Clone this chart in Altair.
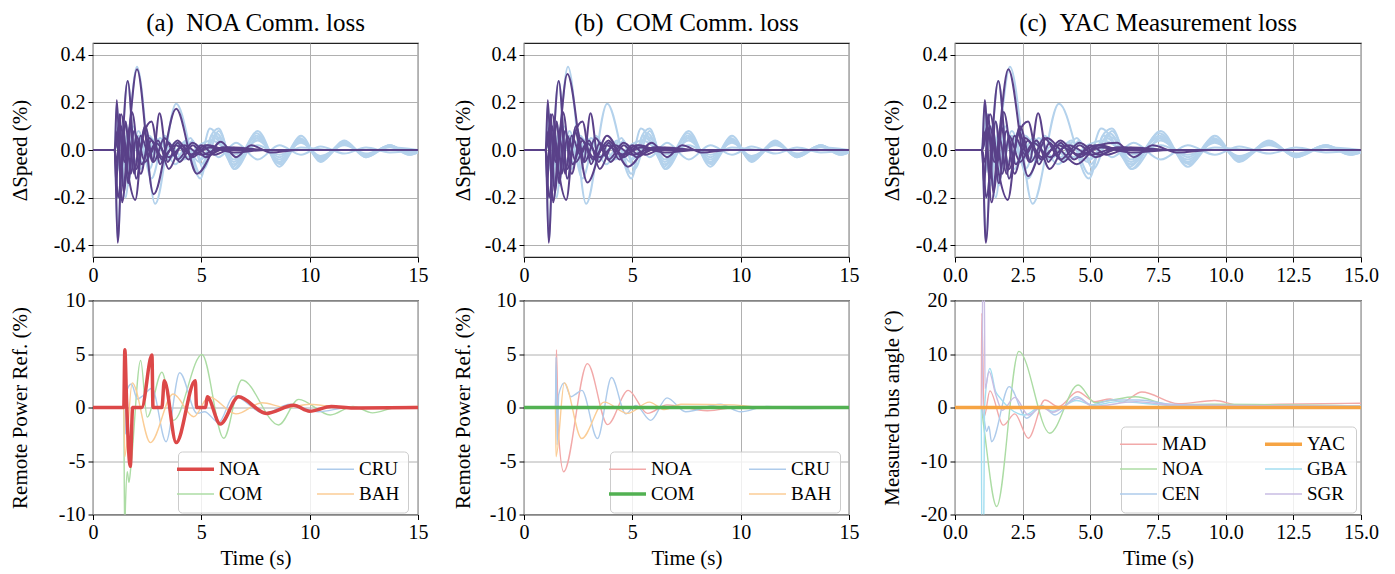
import altair as alt
import pandas as pd

FONT = "Liberation Serif"

# ---------------- top row: ΔSpeed (%) ----------------
# dark purple lines (time s, value %)
SPD_DARK_1 = [(0, 0), (1.0, 0), (1.14, -0.39), (1.38, 0.06), (1.62, -0.14), (1.9, 0.08), (2.25, -0.06), (2.7, 0.04), (3.2, -0.03), (3.8, 0.02), (4.6, -0.02), (5.4, 0.01), (6.5, -0.01), (8, 0), (15, 0)]
SPD_DARK_2 = [(0, 0), (1.0, 0), (1.1, 0.21), (1.28, -0.12), (1.5, 0.12), (1.75, -0.1), (2.0, 0.06), (2.4, -0.05), (2.9, 0.03), (3.5, -0.03), (4.2, 0.02), (5.0, -0.02), (6.0, 0.01), (7.5, 0), (15, 0)]
SPD_DARK_3 = [(0, 0), (1.0, 0), (1.15, -0.2), (1.6, 0.29), (2.0, -0.12), (2.4, 0.1), (2.8, -0.05), (3.3, 0.05), (3.9, -0.04), (4.6, 0.03), (5.3, -0.02), (6.2, 0.01), (7.5, 0), (15, 0)]
SPD_DARK_4A = [(0, 0), (1.0, 0), (1.2, 0.1), (1.45, -0.05), (2.03, 0.34), (2.8, -0.186), (3.84, 0.173), (4.8, -0.1), (5.9, 0.035), (6.6, -0.03), (7.3, 0.02), (8.2, -0.01), (9.5, 0), (15, 0)]
SPD_DARK_4B = [(0, 0), (1.0, 0), (1.2, 0.1), (1.45, -0.05), (2.0, 0.32), (2.93, -0.137), (3.83, 0.06), (4.8, -0.07), (5.9, 0.03), (6.6, -0.03), (7.3, 0.02), (8.2, -0.01), (9.5, 0), (15, 0)]
SPD_DARK_4C = [(0, 0), (1.0, 0), (1.2, 0.1), (1.45, -0.05), (1.97, 0.34), (2.7, -0.11), (3.4, 0.05), (3.9, 0.0), (4.5, -0.06), (5.3, 0.02), (6.0, 0.03), (6.6, -0.03), (7.3, 0.02), (8.2, -0.01), (9.5, 0), (15, 0)]
SPD_DARK_5 = [(0, 0), (1.0, 0), (1.3, 0.15), (1.62, -0.1), (1.95, -0.21), (2.35, 0.08), (2.75, -0.05), (3.07, 0.155), (3.45, -0.05), (3.9, 0.03), (4.4, -0.04), (5.0, 0.02), (5.6, -0.02), (6.5, 0.01), (8, 0), (15, 0)]
SPD_DARK_6 = [(0, 0), (1.0, 0), (1.08, -0.15), (1.22, 0.15), (1.42, -0.18), (1.7, 0.1), (2.0, -0.08), (2.35, 0.07), (2.7, 0.12), (3.1, -0.06), (3.5, 0.03), (4.0, -0.05), (4.6, 0.02), (5.2, -0.03), (6.0, 0.01), (7.5, 0), (15, 0)]
SPD_DARK_7 = [(0, 0), (1.0, 0), (1.12, 0.08), (1.35, -0.22), (1.65, 0.05), (1.9, -0.1), (2.2, 0.06), (2.6, -0.02), (3.0, 0.04), (3.5, -0.08), (4.1, 0.02), (4.6, -0.03), (5.3, 0.02), (6.2, 0), (15, 0)]
SPD_DARK_8 = [(0, 0), (1.0, 0), (1.1, -0.05), (1.3, 0.1), (1.55, -0.06), (1.8, 0.16), (2.2, -0.1), (2.6, 0.05), (3.2, -0.04), (3.9, 0.04), (4.5, -0.02), (5.2, 0.02), (6.2, 0), (15, 0)]

# light blue lines
SPD_LIGHT_1 = [(0, 0), (1.0, 0), (1.2, 0.1), (1.45, -0.05), (2.03, 0.35), (2.87, -0.226), (3.84, 0.195), (4.95, -0.12), (5.45, 0.06), (5.8, 0.09), (6.5, -0.08), (7.6, 0.08), (8.6, -0.07), (9.6, 0.06), (10.5, -0.05), (11.6, 0.04), (12.6, -0.03), (13.7, 0.02), (14.6, -0.02), (15, -0.01)]
SPD_LIGHT_2 = [(0, 0), (1.0, 0), (1.14, -0.38), (1.38, 0.05), (1.62, -0.15), (1.9, 0.08), (2.3, -0.06), (2.9, 0.05), (3.5, -0.04), (4.2, 0.03), (4.9, -0.05), (5.4, 0.09), (6.5, -0.06), (7.55, 0.06), (8.6, -0.05), (9.6, 0.045), (10.5, -0.04), (11.6, 0.03), (12.6, -0.025), (13.7, 0.02), (14.6, -0.015), (15, 0)]
SPD_LIGHT_3 = [(0, 0), (1.0, 0), (1.1, 0.2), (1.28, -0.12), (1.5, 0.12), (1.75, -0.1), (2.0, 0.06), (2.5, -0.04), (3.1, 0.03), (3.8, -0.06), (4.6, 0.03), (5.1, -0.08), (5.8, 0.08), (6.55, -0.08), (7.6, 0.05), (8.65, -0.06), (9.6, 0.04), (10.5, -0.045), (11.65, 0.03), (12.6, -0.03), (13.7, 0.015), (14.6, -0.02), (15, -0.01)]
SPD_LIGHT_4 = [(0, 0), (1.0, 0), (1.15, -0.2), (1.6, 0.29), (2.0, -0.12), (2.4, 0.1), (2.8, -0.05), (3.3, 0.06), (4.0, -0.05), (4.6, 0.04), (5.0, -0.06), (5.7, 0.07), (6.5, -0.04), (7.6, 0.04), (8.6, -0.03), (9.6, 0.03), (10.5, -0.025), (11.6, 0.02), (12.6, -0.015), (13.7, 0.012), (15, 0)]
SPD_LIGHT_5 = [(0, 0), (1.0, 0), (1.2, 0.15), (1.5, -0.2), (1.85, 0.1), (2.2, -0.08), (2.6, 0.06), (3.2, -0.04), (3.8, 0.03), (4.4, -0.03), (5.2, 0.02), (5.8, -0.03), (6.6, 0.03), (7.6, -0.04), (8.6, 0.02), (9.6, -0.02), (10.5, 0.015), (11.6, -0.015), (12.6, 0.01), (13.7, -0.01), (15, 0)]
SPD_LIGHT_6 = [(0, 0), (1.0, 0), (1.1, -0.1), (1.35, 0.1), (1.7, -0.08), (2.1, 0.06), (2.6, -0.08), (3.1, 0.05), (3.6, -0.03), (4.3, 0.04), (4.95, -0.1), (5.5, 0.06), (5.85, 0.05), (6.45, -0.07), (7.55, 0.07), (8.6, -0.055), (9.55, 0.05), (10.5, -0.035), (11.6, 0.035), (12.6, -0.025), (13.7, 0.02), (14.6, -0.012), (15, 0)]
SPD_LIGHT_7 = [(0, 0), (1.0, 0), (1.12, 0.12), (1.3, -0.15), (1.6, 0.07), (2.0, -0.05), (2.5, 0.04), (3.0, -0.05), (3.6, 0.02), (4.2, -0.04), (4.9, 0.02), (5.5, 0.04), (6.5, -0.02), (7.6, 0.02), (8.6, -0.02), (9.6, 0.01), (11, 0), (15, 0)]
SPD_LIGHT_8 = [(0, 0), (1.0, 0), (1.2, 0.05), (1.6, -0.1), (2.1, 0.08), (2.7, -0.12), (3.3, 0.05), (3.9, -0.03), (4.5, 0.05), (5.0, -0.04), (5.6, 0.05), (6.5, -0.05), (7.5, 0.05), (8.6, -0.04), (9.6, 0.035), (10.5, -0.03), (11.6, 0.025), (12.6, -0.02), (13.6, 0.015), (14.6, -0.01), (15, 0)]

# ---------------- bottom row (a, b): Remote Power Ref. (%) ----------------
PWR_A_NOA = [(0, 0), (1.42, 0), (1.47, 5.4), (1.55, 0.5), (1.72, -5.5), (1.83, 0), (2.25, 0), (2.72, 4.9), (2.77, 0), (3.18, 0), (3.29, 2.5), (3.84, -3.28), (4.72, 2.5), (4.78, 0), (5.2, 0), (5.27, 1.0), (5.87, -1.55), (6.72, 1.0), (8.0, -0.55), (9.26, 0.2), (10.0, -0.35), (11.0, 0.1), (12.0, -0.05), (15, 0)]
PWR_A_COM = [(0, 0), (1.42, 0), (1.46, -12), (1.5, -9), (1.58, -6.0), (1.66, -7.0), (1.75, -5.5), (2.2, 4.4), (2.5, -0.9), (3.18, 3.3), (3.72, -1.2), (5.03, 4.96), (6.03, -2.88), (6.87, 2.57), (8.57, -1.63), (9.49, 0.76), (10.95, -0.7), (12.0, 0.1), (12.9, -0.5), (14, 0.0), (15, 0.05)]
PWR_A_CRU = [(0, 0), (1.42, 0), (1.46, 2.8), (1.5, -2.5), (1.55, 1.5), (1.77, 2.2), (2.05, 0.8), (2.3, 1.1), (2.72, 1.8), (3.37, -3.2), (4.0, 3.25), (4.8, -0.55), (5.15, -0.4), (5.8, -1.4), (6.5, 1.07), (7.9, -0.55), (9.1, 0.3), (10.4, -0.4), (11.8, 0), (15, 0)]
PWR_A_BAH = [(0, 0), (1.42, 0), (1.47, -4.6), (1.81, 2.3), (2.65, -3.28), (3.7, 1.26), (4.65, -0.86), (5.35, 1.0), (6.6, -0.6), (7.8, 0.45), (8.9, 0.0), (10.0, 0.3), (11.5, 0.0), (15, 0.1)]

PWR_B_NOA = [(0, 0), (1.45, 0), (1.5, 5.4), (1.58, -2), (1.83, -6.0), (2.93, 4.1), (3.86, -1.6), (4.81, 1.6), (5.7, -0.55), (6.6, 0.25), (8.46, -0.3), (10, 0.05), (15, 0)]
PWR_B_COM = [(0, 0), (1.5, 0), (15, 0)]
PWR_B_CRU = [(0, 0), (1.45, 0), (1.48, 4.7), (1.53, -3.5), (1.6, 1.2), (1.86, 2.3), (2.17, 1.0), (2.35, 1.2), (2.67, 1.6), (3.39, -2.9), (4.04, 2.8), (4.7, -0.6), (5.16, 0.2), (5.85, -1.2), (6.6, 0.9), (7.46, -0.4), (9.07, 0.3), (10.0, -0.4), (11.2, 0.1), (12.5, -0.1), (15, 0)]
PWR_B_BAH = [(0, 0), (1.45, 0), (1.48, -4.6), (1.86, 2.3), (2.66, -2.9), (3.7, 0.5), (4.78, -0.55), (5.79, 0.5), (6.48, -0.2), (7.25, 0.3), (9.7, 0.25), (11, 0.0), (15, 0.05)]

# ---------------- bottom row (c): Measured bus angle (deg) ----------------
ANG_MAD = [(0, 0), (0.97, 0), (0.99, 17.6), (1.08, -1.7), (1.29, 3.1), (1.78, -3.3), (2.21, -1.2), (2.71, -5.75), (3.32, 1.4), (3.82, 0.15), (4.53, 2.95), (5.17, 1.1), (5.73, 1.6), (6.16, 1.0), (6.9, 2.9), (8.25, 0.7), (9.6, 1.3), (10.5, 0.4), (12, 0.6), (15, 0.8)]
ANG_NOA = [(0, 0), (0.97, 0), (1.05, -3), (1.54, -18.5), (2.36, 10.5), (3.5, -4.8), (4.55, 4.2), (5.17, 0.9), (5.6, 1.2), (6.66, 2.0), (8.0, 0.5), (9.5, 0.6), (15, 0.3)]
ANG_CEN = [(0, 0), (0.98, 0), (1.05, -1.5), (1.17, -4.5), (1.25, -3.5), (1.35, -6.4), (2.0, 3.9), (2.65, -2.0), (3.2, 0.4), (3.7, -1.4), (4.5, 2.0), (5.05, 0.5), (5.8, 1.4), (6.8, 1.4), (8, 0.6), (9.5, 0.4), (15, 0.3)]
ANG_YAC = [(0, 0), (1.0, 0), (15, 0)]
ANG_GBA = [(0, 0), (0.97, 0), (0.99, -24), (1.06, -24), (1.09, 0), (1.29, 7.3), (1.5, 3.0), (1.65, 1.9), (2.58, -1.4), (3.2, 0.3), (3.6, -0.7), (4.5, 1.3), (5.1, 0.4), (6.0, 1.1), (8, 0.4), (15, 0.2)]
ANG_SGR = [(0, 0), (1.0, 0), (1.02, 24), (1.08, 24), (1.11, 3.5), (1.26, 6.7), (1.5, 2.5), (1.75, -0.5), (2.21, 1.9), (2.71, -1.4), (3.2, 0.1), (3.6, -0.9), (4.55, 1.7), (5.1, 0.2), (6.7, 1.1), (8, 0.5), (15, 0.2)]

# ---------------- ticks and labels ----------------
TIME_TICKS_AB = [0, 5, 10, 15]
TIME_TICKS_C = [0, 2.5, 5, 7.5, 10, 12.5, 15]
SPEED_TICKS = [-0.4, -0.2, 0.0, 0.2, 0.4]
POWER_TICKS = [-10, -5, 0, 5, 10]
ANGLE_TICKS = [-20, -10, 0, 10, 20]
TITLES = ["(a)\u00a0\u00a0NOA Comm. loss", "(b)\u00a0\u00a0COM Comm. loss", "(c)\u00a0\u00a0YAC Measurement loss"]

LIGHT = "#b4d2ec"
DARK = "#5a4189"

W_AB, W_C, H = 325, 406, 214


def frame(named):
    rows = []
    for name, pts in named:
        for t, v in pts:
            rows.append({"id": name, "t": t, "v": v})
    return pd.DataFrame(rows)


def neg_label(fmt):
    return f"(datum.value < 0 ? '-' : '') + format(abs(datum.value), '{fmt}')"


def x_enc(ticks, fmt, title):
    return alt.X("t:Q", scale=alt.Scale(domain=[0, 15], nice=False, zero=False),
                 axis=alt.Axis(values=ticks, labelExpr=neg_label(fmt), title=title, labelFlush=False))


def speed_panel(darks, title, ticks, fmt, width, title_x):
    lights = [("L1", SPD_LIGHT_1), ("L2", SPD_LIGHT_2), ("L3", SPD_LIGHT_3), ("L4", SPD_LIGHT_4),
              ("L5", SPD_LIGHT_5), ("L6", SPD_LIGHT_6), ("L7", SPD_LIGHT_7), ("L8", SPD_LIGHT_8)]
    y = alt.Y("v:Q", scale=alt.Scale(domain=[-0.45, 0.45], nice=False, zero=False),
              axis=alt.Axis(values=SPEED_TICKS, labelExpr=neg_label(".1f"), title="ΔSpeed (%)",
                            titleX=title_x, titleBaseline="middle"))
    x = x_enc(ticks, fmt, None)
    light = alt.Chart(frame(lights)).mark_line(color=LIGHT, strokeWidth=2, interpolate="monotone", clip=True).encode(
        x=x, y=y, detail="id:N")
    dark = alt.Chart(frame(darks)).mark_line(color=DARK, strokeWidth=2, interpolate="monotone", clip=True).encode(
        x=x, y=y, detail="id:N")
    return alt.layer(light, dark).properties(
        width=width, height=H,
        title=alt.TitleParams(title, anchor="middle", font=FONT, fontSize=25, fontWeight="normal", offset=7))


def bottom_panel(thin, thick, domain, colors, ticks_y, ylim, ytitle, ticks, fmt, width, title_x, lx, ly):
    thick_name = thick[0]
    legend = alt.Legend(
        title=None, orient="none", legendX=lx, legendY=ly, columns=2,
        symbolType="stroke", symbolSize=1369,
        symbolStrokeWidth=alt.ExprRef(expr=f"datum.value === '{thick_name}' ? 3.5 : 1.4"),
        labelFont=FONT, labelFontSize=19, labelColor="black",
        fillColor="rgba(255,255,255,0.8)", strokeColor="#cccccc", cornerRadius=4,
        padding=8, rowPadding=5, columnPadding=51, labelOffset=14)
    color = alt.Color("id:N", scale=alt.Scale(domain=domain, range=colors), legend=legend)
    y = alt.Y("v:Q", scale=alt.Scale(domain=ylim, nice=False, zero=False),
              axis=alt.Axis(values=ticks_y, labelExpr=neg_label("d"), title=ytitle,
                            titleX=title_x, titleBaseline="middle"))
    x = x_enc(ticks, fmt, "Time (s)")
    thin_c = alt.Chart(frame(thin)).mark_line(strokeWidth=1.4, interpolate="monotone", clip=True).encode(
        x=x, y=y, color=color)
    thick_c = alt.Chart(frame([thick])).mark_line(strokeWidth=3.5, interpolate="monotone", clip=True).encode(
        x=x, y=y, color=color)
    return alt.layer(thin_c, thick_c).properties(width=width, height=H)


base_darks = [("D1", SPD_DARK_1), ("D2", SPD_DARK_2), ("D3", SPD_DARK_3), ("D5", SPD_DARK_5),
              ("D6", SPD_DARK_6), ("D7", SPD_DARK_7), ("D8", SPD_DARK_8)]

top_a = speed_panel(base_darks + [("D4", SPD_DARK_4A)], TITLES[0], TIME_TICKS_AB, "d", W_AB, -73)
top_b = speed_panel(base_darks + [("D4", SPD_DARK_4B)], TITLES[1], TIME_TICKS_AB, "d", W_AB, -61)
top_c = speed_panel(base_darks + [("D4", SPD_DARK_4C)], TITLES[2], TIME_TICKS_C, ".1f", W_C, -63)

RED_D, RED_L = "#dc4848", "#f2a9a9"
GREEN_D, GREEN_L = "#52b152", "#acdca4"
BLUE_L = "#aecbeb"
ORANGE_D, ORANGE_L = "#f6a443", "#fbcd96"
CYAN_L = "#a3def0"
PURPLE_L = "#c9bde3"

bot_a = bottom_panel(
    [("COM", PWR_A_COM), ("CRU", PWR_A_CRU), ("BAH", PWR_A_BAH)], ("NOA", PWR_A_NOA),
    ["NOA", "COM", "CRU", "BAH"], [RED_D, GREEN_L, BLUE_L, ORANGE_L],
    POWER_TICKS, [-10, 10], "Remote Power Ref. (%)", TIME_TICKS_AB, "d", W_AB, -73, 85, 151)
bot_b = bottom_panel(
    [("NOA", PWR_B_NOA), ("CRU", PWR_B_CRU), ("BAH", PWR_B_BAH)], ("COM", PWR_B_COM),
    ["NOA", "COM", "CRU", "BAH"], [RED_L, GREEN_D, BLUE_L, ORANGE_L],
    POWER_TICKS, [-10, 10], "Remote Power Ref. (%)", TIME_TICKS_AB, "d", W_AB, -61, 86, 151)
bot_c = bottom_panel(
    [("MAD", ANG_MAD), ("NOA", ANG_NOA), ("CEN", ANG_CEN), ("GBA", ANG_GBA), ("SGR", ANG_SGR)], ("YAC", ANG_YAC),
    ["MAD", "NOA", "CEN", "YAC", "GBA", "SGR"], [RED_L, GREEN_L, BLUE_L, ORANGE_D, CYAN_L, PURPLE_L],
    ANGLE_TICKS, [-20, 20], "Measured bus angle (°)", TIME_TICKS_C, ".1f", W_C, -63, 166, 126)

chart = alt.concat(
    top_a, top_b, top_c, bot_a, bot_b, bot_c,
    columns=3, spacing={"row": 43.5, "column": 106}, bounds="flush"
).resolve_scale(color="independent").properties(
    padding={"left": 0, "top": 2, "right": 5, "bottom": 0}
).configure_axis(
    labelFont=FONT, titleFont=FONT, labelFontSize=20, titleFontSize=21, titleFontWeight="normal",
    labelColor="black", titleColor="black", tickColor="black", tickSize=5, labelPadding=3,
    domain=False, gridColor="#b0b0b0", gridWidth=1, titlePadding=5
).configure_view(stroke="#222222", strokeWidth=1.2).configure_title(
    font=FONT, fontSize=25, fontWeight="normal", color="black"
)

chart.save("out.html", embed_options={"renderer": "svg", "actions": False})
